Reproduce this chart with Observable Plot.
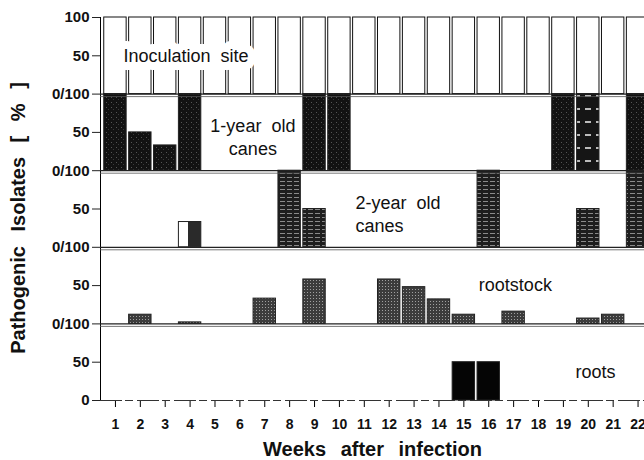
<!DOCTYPE html>
<html><head><meta charset="utf-8">
<script src="https://cdn.jsdelivr.net/npm/d3@7"></script>
<script src="https://cdn.jsdelivr.net/npm/@observablehq/plot@0.6"></script>
<style>
html,body{margin:0;padding:0;background:#fff;overflow:hidden;}
#chart svg{font-family:"Liberation Sans",Arial,sans-serif;}
</style></head><body><div id="chart"></div><script>
// ---- data ----
const weeks = [1,2,3,4,5,6,7,8,9,10,11,12,13,14,15,16,17,18,19,20,21,22];
const inoculationSite = [100,100,100,100,100,100,100,100,100,100,100,100,100,100,100,100,100,100,100,100,100,100];
const oneYearCanes    = [100,50,33,100,0,0,0,0,100,100,0,0,0,0,0,0,0,0,100,100,0,100];
const twoYearCanes    = [0,0,0,33,0,0,0,100,50,0,0,0,0,0,0,100,0,0,0,50,0,100];
const rootstock       = [0,12,0,2,0,0,33,0,58,0,0,58,48,32,12,0,16,0,0,7,12,0];
const roots           = [0,0,0,0,0,0,0,0,0,0,0,0,0,0,50,50,0,0,0,0,0,0];
// panels from bottom to top
const panelNames  = ["roots","rootstock","2-year old canes","1-year old canes","Inoculation site"];
const panelValues = [roots, rootstock, twoYearCanes, oneYearCanes, inoculationSite];
const yTicks      = [0,50,100,150,200,250,300,350,400,450,500];
const yTickLabels = ["0","50","0/100","50","0/100","50","0/100","50","0/100","50","100"];
// panel annotations: text, panel index, week, value within panel
const labelTexts  = ["Inoculation site","1-year old\ncanes","2-year old\ncanes","rootstock","roots"];
const labelPanel  = [4,3,2,1,0];
const labelWeek   = [1,6,10,15,19];
const labelValue  = [50,45,45,53,39];
const yTitle = "Pathogenic Isolates [ % ]";
const xTitle = "Weeks after infection";

// ---- build tables ----
const bars = [];
panelValues.forEach((vals, i) => vals.forEach((v, j) => {
  if (v > 0) bars.push({panel: panelNames[i], idx: i, week: weeks[j], y1: i * 100, y2: i * 100 + v});
}));
const labels = labelTexts.map((t, i) => ({text: t, week: labelWeek[i], y: labelPanel[i] * 100 + labelValue[i], i}));
const boundaries = [100, 200, 300, 400];

function fillFor(d) {
  if (d.idx === 4) return "white";
  if (d.idx === 3) return d.week === 20 ? "url(#mottled)" : "url(#dark)";
  if (d.idx === 2) return d.week === 4 ? "url(#half)" : "url(#stripes)";
  if (d.idx === 1) return "url(#stipple)";
  return "#050505";
}
const lab = (i) => labels.filter(d => d.i === i);
const labelMark = (i, anchor, dx) => Plot.text(lab(i), {x: "week", y: "y", text: "text",
  textAnchor: anchor, dx, fontSize: 18, lineHeight: 1.3, fill: "#111"});

const chart = Plot.plot({
  width: 644, height: 460,
  marginLeft: 100, marginRight: 0, marginTop: 17, marginBottom: 60,
  style: {background: "white", fontFamily: "Liberation Sans, Arial, sans-serif", overflow: "hidden"},
  x: {type: "band", domain: weeks, range: [102.5, 650], round: false, paddingInner: 0.1, paddingOuter: 0.05,
      tickSize: 7, tickPadding: 12, label: null},
  y: {domain: [0, 500], ticks: yTicks, tickFormat: d => yTickLabels[yTicks.indexOf(d)],
      tickSize: 8, tickPadding: 3, line: true, label: null},
  marks: [
    Plot.barY(bars, {x: "week", y1: "y1", y2: "y2", fill: fillFor,
      stroke: d => d.idx === 4 ? "#111" : "#222", strokeWidth: 1}),
    Plot.ruleY(boundaries, {stroke: "#222", strokeWidth: 1.3}),
    Plot.ruleY(boundaries, {stroke: "#555", strokeWidth: 0.8, dy: 2.5}),
    Plot.ruleY([0], {stroke: "#333", strokeWidth: 1, strokeDasharray: "22,3,8,4"}),
    Plot.text(lab(0), {x: "week", y: "y", text: "text", textAnchor: "start", dx: 8,
      fontSize: 18, stroke: "white", strokeWidth: 16, fill: "#111"}),
    labelMark(1, "middle", 13),
    labelMark(2, "start", 16),
    labelMark(3, "start", 15),
    labelMark(4, "start", 12),
    Plot.text([yTitle], {frameAnchor: "left", textAnchor: "middle", rotate: -90, dx: -82, dy: 9,
      fontSize: 20, fontWeight: "bold", fill: "#111"}),
    Plot.text([xTitle], {frameAnchor: "bottom", textAnchor: "middle", dy: 55,
      fontSize: 20, fontWeight: "bold", fill: "#111"})
  ]
});

// patterns emulating the print textures
const svg = d3.select(chart.tagName.toLowerCase() === "svg" ? chart : chart.querySelector("svg"));
const defs = svg.insert("defs", ":first-child");
const p1 = defs.append("pattern").attr("id", "dark").attr("patternUnits", "userSpaceOnUse").attr("width", 5).attr("height", 5);
p1.append("rect").attr("width", 5).attr("height", 5).attr("fill", "#121212");
p1.append("rect").attr("x", 1).attr("y", 2).attr("width", 1).attr("height", 1).attr("fill", "#555");
p1.append("rect").attr("x", 3).attr("y", 4).attr("width", 1).attr("height", 1).attr("fill", "#3a3a3a");
const p2 = defs.append("pattern").attr("id", "stripes").attr("patternUnits", "userSpaceOnUse").attr("width", 7).attr("height", 4);
p2.append("rect").attr("width", 7).attr("height", 4).attr("fill", "#1e1e1e");
p2.append("rect").attr("y", 1).attr("width", 5).attr("height", 1).attr("fill", "#8a8a8a");
const p3 = defs.append("pattern").attr("id", "stipple").attr("patternUnits", "userSpaceOnUse").attr("width", 3).attr("height", 3);
p3.append("rect").attr("width", 3).attr("height", 3).attr("fill", "#3c3c3c");
p3.append("rect").attr("x", 1).attr("y", 1).attr("width", 1).attr("height", 1).attr("fill", "#a0a0a0");
const p4 = defs.append("pattern").attr("id", "mottled").attr("patternUnits", "userSpaceOnUse").attr("width", 11).attr("height", 13);
p4.append("rect").attr("width", 11).attr("height", 13).attr("fill", "#151515");
p4.append("rect").attr("x", 2).attr("y", 4).attr("width", 6).attr("height", 2).attr("fill", "#bbb");
const g = defs.append("linearGradient").attr("id", "half");
g.append("stop").attr("offset", "0.45").attr("stop-color", "white");
g.append("stop").attr("offset", "0.45").attr("stop-color", "#2a2a2a");
g.append("stop").attr("offset", "1").attr("stop-color", "#2a2a2a");

// axis text styling
svg.selectAll('[aria-label^="x-axis"] text').style("font-size", "14px").style("font-weight", "bold").style("fill", "#111");
svg.selectAll('[aria-label^="y-axis"] text').style("font-size", "15px").style("font-weight", "bold").style("fill", "#111");
svg.selectAll('[aria-label^="y-axis"] path, [aria-label^="y-axis"] line').style("stroke", "#222");
// wide word spacing of the print typesetting
svg.selectAll("text, tspan").each(function() {
  const t = this.textContent;
  const el = d3.select(this);
  if (t === yTitle || t === xTitle) el.style("word-spacing", "9px");
  else if (/ /.test(t)) el.style("word-spacing", "5px");
  if (t === labelTexts[0]) el.style("paint-order", "stroke").style("stroke-linejoin", "round");
});

document.getElementById("chart").appendChild(chart);
</script></body></html>
